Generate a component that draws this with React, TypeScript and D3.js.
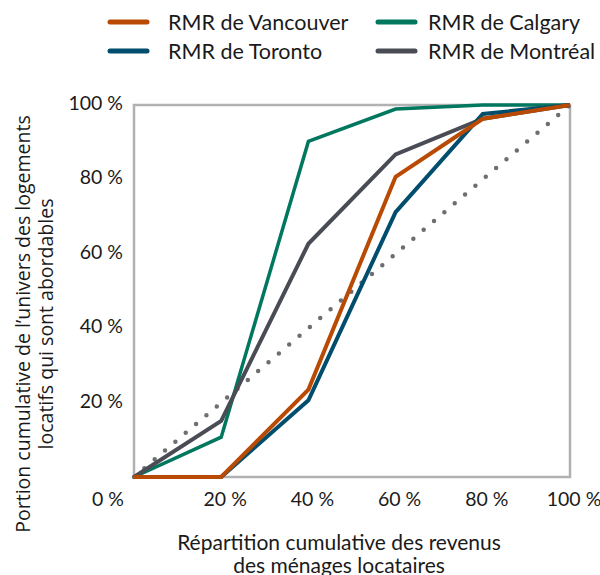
import React from "react";
import * as d3 from "d3";

const xValues = [0, 20, 40, 60, 80, 100];
const vancouver = [0, 0, 23.5, 80.7, 96.3, 100];
const toronto = [0, 0, 20.6, 71.2, 97.6, 100];
const calgary = [0, 10.7, 90.2, 98.9, 100, 100];
const montreal = [0, 15.1, 62.7, 86.7, 96.3, 100];
const equality = [0, 20, 40, 60, 80, 100];
const tickValues = [20, 40, 60, 80, 100];
const tickLabels = ["20 %", "40 %", "60 %", "80 %", "100 %"];
const cornerLabel = "0 %";

const seriesNames = ["RMR de Vancouver", "RMR de Toronto", "RMR de Calgary", "RMR de Montréal"];
const seriesColors = ["#b94a04", "#004d6d", "#00775f", "#4a4c55"];

const W = 600;
const H = 575;
const m = { left: 134, right: 570, top: 105, bottom: 477 };

export default function App() {
  const x = d3.scaleLinear().domain([0, 100]).range([m.left, m.right]);
  const y = d3.scaleLinear().domain([0, 100]).range([m.bottom, m.top]);
  const line = d3
    .line<number>()
    .x((_, i) => x(xValues[i]))
    .y((d) => y(d));

  const drawOrder = [
    { vals: calgary, color: seriesColors[2], w: 3.5 },
    { vals: montreal, color: seriesColors[3], w: 4 },
    { vals: toronto, color: seriesColors[1], w: 4 },
    { vals: vancouver, color: seriesColors[0], w: 4 },
  ];

  const gill = "Lato, 'Open Sans', sans-serif";

  const legendPos = [
    { lx: 110, tx: 168, y: 22 },
    { lx: 110, tx: 168, y: 51 },
    { lx: 378, tx: 428, y: 22 },
    { lx: 378, tx: 428, y: 51 },
  ];

  return (
    <svg
      width={W}
      height={H}
      style={{ position: "absolute", left: 0, top: 0, background: "#fff" }}
    >
      {/* legend */}
      {seriesNames.map((n, i) => (
        <g key={n}>
          <line
            x1={legendPos[i].lx}
            x2={legendPos[i].lx + 37}
            y1={legendPos[i].y}
            y2={legendPos[i].y}
            stroke={seriesColors[i]}
            strokeWidth={5}
            strokeLinecap="round"
          />
          <text
            x={legendPos[i].tx}
            y={legendPos[i].y + 8}
            fontFamily={gill}
            fontSize={21.5}
            fill="#1a1a1a"
          >
            {n}
          </text>
        </g>
      ))}

      {/* plot frame */}
      <rect
        x={m.left}
        y={m.top}
        width={m.right - m.left}
        height={m.bottom - m.top}
        fill="none"
        stroke="#b1b1b4"
        strokeWidth={2.5}
      />

      {/* equality dotted line */}
      <path
        d={line(equality) || ""}
        fill="none"
        stroke="#6d6e72"
        strokeWidth={4.5}
        strokeLinecap="round"
        strokeDasharray="0 13.6"
      />

      {drawOrder.map((s, i) => (
        <path
          key={i}
          d={line(s.vals) || ""}
          fill="none"
          stroke={s.color}
          strokeWidth={s.w}
          strokeLinejoin="miter"
        />
      ))}

      {/* y ticks */}
      {tickValues.map((v, i) => (
        <text
          key={"y" + v}
          x={m.left - 11}
          y={y(v) + 5}
          textAnchor="end"
          fontFamily={gill}
          fontSize={19.5}
          fill="#1a1a1a"
        >
          {tickLabels[i]}
        </text>
      ))}
      {/* x ticks */}
      {tickValues.map((v, i) => (
        <text
          key={"x" + v}
          x={x(v) + 4}
          y={m.bottom + 29}
          textAnchor="middle"
          fontFamily={gill}
          fontSize={19.5}
          fill="#1a1a1a"
        >
          {tickLabels[i]}
        </text>
      ))}
      <text
        x={x(0) - 26}
        y={m.bottom + 29}
        textAnchor="middle"
        fontFamily={gill}
        fontSize={19.5}
        fill="#1a1a1a"
      >
        {cornerLabel}
      </text>

      {/* x title */}
      <text
        x={339}
        y={550}
        textAnchor="middle"
        fontFamily={gill}
        fontSize={21}
        fill="#1a1a1a"
      >
        <tspan x={339}>Répartition cumulative des revenus</tspan>
        <tspan x={339} dy={22.5}>des ménages locataires</tspan>
      </text>

      {/* y title */}
      <g transform="translate(0,324) rotate(-90)">
        <text
          textAnchor="middle"
          fontFamily="'Open Sans', sans-serif"
          fontSize={19.5}
          fill="#1a1a1a"
        >
          <tspan x={0} y={30}>Portion cumulative de l’univers des logements</tspan>
          <tspan x={0} y={53}>locatifs qui sont abordables</tspan>
        </text>
      </g>
    </svg>
  );
}
